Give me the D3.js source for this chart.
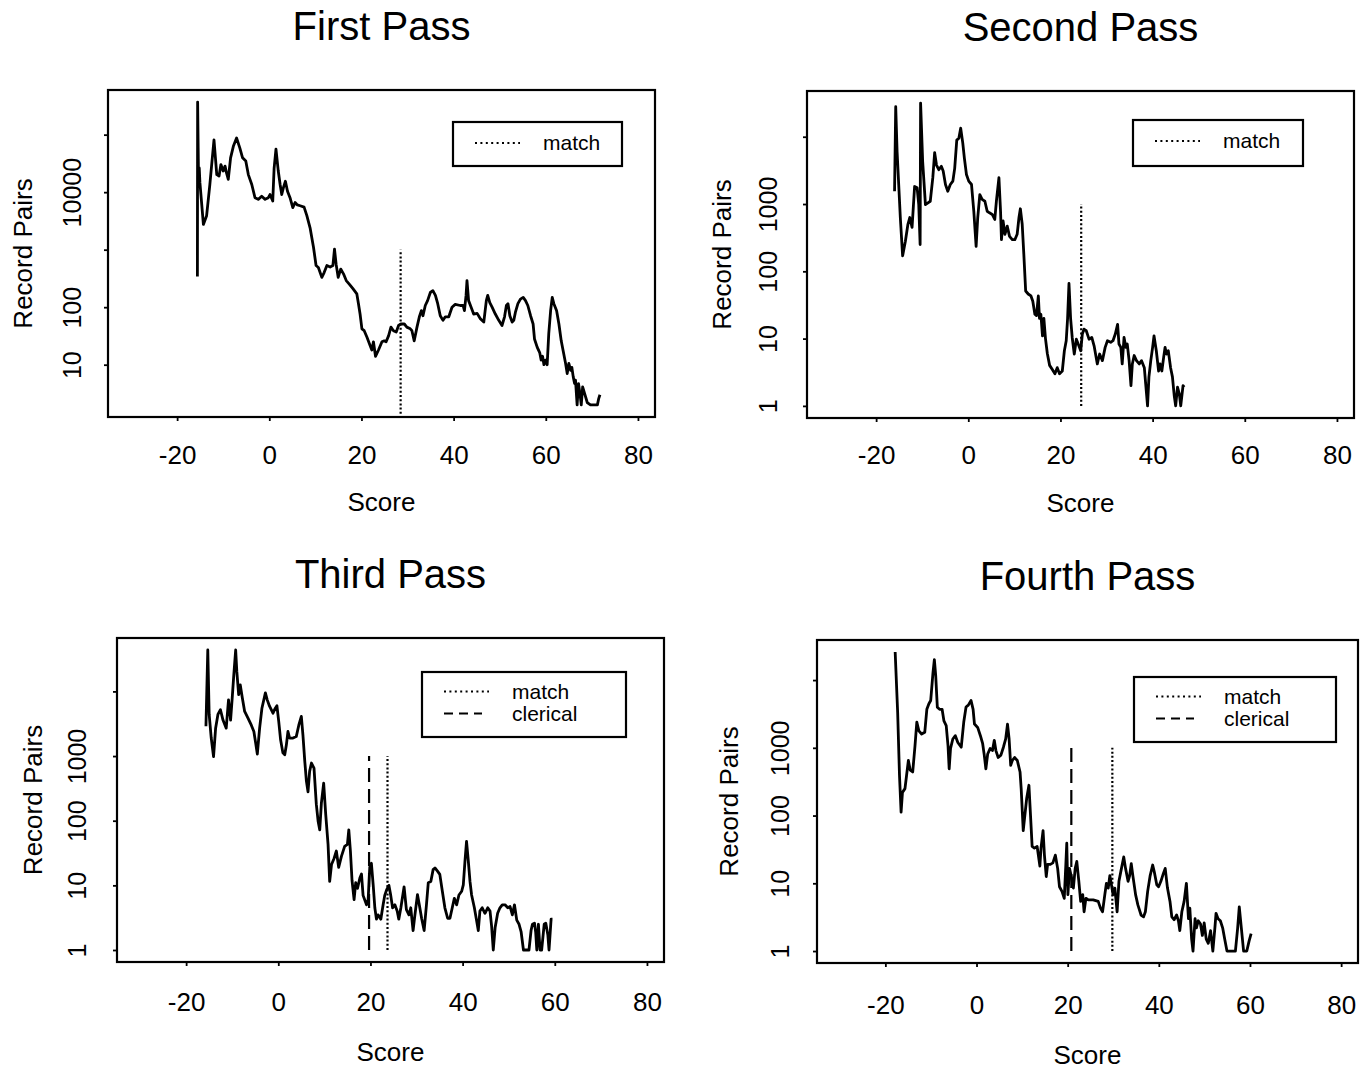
<!DOCTYPE html>
<html>
<head>
<meta charset="utf-8">
<script src="https://cdn.jsdelivr.net/npm/d3@7"></script>
<style>
  body { margin: 0; background: #fff; }
  svg { display: block; font-family: "Liberation Sans", Arial, Helvetica, sans-serif; }
</style>
</head>
<body>
<svg id="chart" width="1362" height="1070"></svg>
<script>
// ---- Score axis ----
const scoreTicks = [-20, 0, 20, 40, 60, 80];
const scoreDomain = [-35, 83.7];

// ---- Record-pair axis ticks per pass (blank label = tick without text) ----
const firstPairTicks = [10, 100, 1000, 10000, 100000];
const firstPairLabels = ["10", "100", "", "10000", ""];
const laterPairTicks = [1, 10, 100, 1000, 10000];
const laterPairLabels = ["1", "10", "100", "1000", ""];

// ---- First pass ----
const firstScore = [-15.6, -15.55, -15.35, -15.2, -15.05, -14.3, -13.6, -12.9, -12.0, -11.4, -10.9, -10.5, -10.0, -9.6, -9.3, -8.9, -8.4, -7.8, -7.1, -6.4, -5.8, -5.1, -4.55, -3.8, -3.1, -2.4, -1.65, -0.9, -0.2, 0.15, 0.75, 1.05, 1.45, 1.95, 2.35, 2.7, 3.05, 3.5, 3.95, 4.5, 5.1, 5.6, 6.1, 6.7, 7.55, 8.15, 8.85, 9.6, 10.15, 10.65, 11.4, 11.9, 12.5, 13.2, 13.8, 14.15, 14.5, 14.95, 15.5, 16.1, 16.7, 17.4, 18.15, 19.0, 19.35, 19.7, 20.1, 20.6, 21.2, 21.75, 22.25, 22.6, 23.05, 23.7, 24.45, 24.95, 25.35, 25.9, 26.4, 26.95, 27.55, 28.05, 28.55, 29.3, 29.85, 30.6, 30.95, 31.45, 32.05, 32.6, 33.0, 33.35, 33.85, 34.35, 34.95, 35.5, 36.05, 36.55, 37.1, 37.7, 38.2, 38.95, 39.65, 40.35, 41.45, 42.05, 42.35, 42.7, 42.9, 43.25, 43.8, 44.35, 45.1, 45.8, 46.55, 47.1, 47.4, 47.85, 48.35, 49.05, 49.8, 50.5, 51.05, 51.45, 51.8, 52.2, 52.7, 53.05, 53.4, 53.95, 54.5, 55.1, 55.6, 56.1, 56.7, 57.25, 57.55, 58.15, 58.7, 59.0, 59.3, 59.6, 59.95, 60.3, 60.65, 61.05, 61.4, 61.75, 62.35, 62.85, 63.35, 63.8, 64.3, 64.65, 65.0, 65.4, 65.65, 65.95, 66.25, 66.45, 66.8, 67.1, 67.4, 67.7, 68.0, 68.4, 69.0, 69.7, 70.4, 71.2, 71.5, 71.75];
const firstPairs = [340, 368000, 15500, 26300, 14500, 2750, 3900, 13500, 81000, 20200, 19100, 30200, 23300, 28400, 21900, 16700, 39500, 62600, 87500, 59000, 39500, 34700, 20200, 13600, 8000, 7500, 8500, 7500, 8000, 9100, 7000, 26300, 56200, 23300, 13600, 9100, 11900, 15500, 10400, 8000, 5400, 6600, 6000, 5800, 5500, 3900, 2400, 1090, 530, 490, 330, 400, 530, 500, 530, 1020, 560, 330, 460, 380, 290, 250, 210, 170, 115, 76, 42, 39, 30, 23, 18, 25, 14, 18, 25, 26, 25, 32, 45, 39, 37, 48, 51, 51, 45, 42, 39, 26, 45, 70, 87, 71, 107, 130, 180, 194, 160, 115, 71, 59, 68, 68, 100, 112, 107, 107, 87, 160, 290, 130, 100, 76, 78, 63, 55, 130, 160, 120, 100, 76, 59, 48, 68, 107, 115, 71, 55, 59, 81, 115, 138, 148, 130, 107, 71, 51, 28, 20, 16, 12, 14, 10, 12, 10, 35, 87, 148, 115, 87, 51, 26, 17, 10.5, 7, 10.5, 8, 9, 6.2, 4.7, 5.4, 2, 4.7, 3.2, 2, 4.1, 3.2, 2.2, 2, 2, 2, 2.6, 3];
const firstMatch = 28.5;

// ---- Second pass ----
const secondScore = [-16.0, -15.75, -15.45, -15.1, -14.75, -14.25, -13.65, -13.1, -12.7, -12.2, -11.65, -11.1, -10.75, -10.45, -10.35, -9.9, -9.3, -8.75, -8.25, -7.7, -7.3, -6.9, -6.4, -5.85, -5.45, -4.95, -4.45, -3.9, -3.35, -2.95, -2.5, -2.05, -1.65, -1.2, -0.85, -0.4, 0.1, 0.7, 1.2, 1.7, 2.05, 2.5, 3.0, 3.6, 4.1, 4.6, 5.2, 5.75, 6.1, 6.65, 7.0, 7.2, 7.55, 7.95, 8.45, 8.95, 9.55, 10.1, 10.6, 11.0, 11.3, 11.7, 12.05, 12.45, 13.0, 13.6, 14.0, 14.45, 14.8, 15.2, 15.45, 15.75, 16.1, 16.4, 16.75, 17.15, 17.65, 18.2, 18.8, 19.3, 19.8, 20.4, 20.85, 21.25, 21.55, 21.85, 22.2, 22.55, 23.0, 23.45, 23.85, 24.4, 24.75, 25.1, 25.6, 26.2, 26.8, 27.3, 28.0, 28.5, 29.1, 29.7, 30.2, 30.9, 31.4, 31.9, 32.4, 32.7, 33.1, 33.4, 33.8, 34.2, 34.5, 34.9, 35.3, 35.6, 36.0, 36.5, 37.1, 37.6, 38.2, 38.5, 38.9, 39.2, 39.6, 40.0, 40.3, 40.8, 41.3, 41.6, 42.0, 42.4, 42.7, 43.0, 43.4, 43.9, 44.3, 44.7, 45.0, 45.4, 45.8, 46.1, 46.6, 46.85];
const secondPairs = [1550, 28000, 6000, 1950, 630, 170, 280, 500, 630, 450, 1820, 1740, 980, 250, 31600, 4270, 980, 1040, 1100, 2460, 5800, 3800, 3240, 3630, 3090, 1950, 1550, 1950, 2190, 3390, 8900, 9500, 13400, 8100, 4800, 2750, 2190, 1950, 780, 235, 630, 1380, 1170, 1100, 780, 740, 700, 590, 1100, 2460, 780, 295, 560, 355, 470, 330, 295, 295, 355, 630, 850, 500, 180, 51, 46, 43, 36, 23, 22, 43, 20, 23, 11, 20, 10, 6, 4, 3.5, 3, 3.7, 3, 3.3, 6.6, 9.3, 20, 66, 20, 10.4, 5.9, 9.8, 8.3, 6.6, 11.7, 13.8, 13.1, 9.8, 10.4, 7.8, 4.2, 5.9, 4.7, 7.4, 9.3, 8.8, 9.3, 11.7, 16.3, 8.3, 7.4, 4.2, 10.4, 7.4, 8.3, 4.7, 2, 4.2, 5.6, 4.7, 4.2, 4.7, 3.7, 2.1, 1, 2.7, 4.7, 7.4, 11, 6.6, 3.3, 4.2, 3.3, 5.3, 7.4, 5.9, 6.6, 3.7, 2.7, 1.4, 1, 1.9, 1.5, 1, 2, 1.9];
const secondMatch = 24.5;

// ---- Third pass ----
const thirdScore = [-15.7, -15.3, -15.0, -14.55, -14.05, -13.6, -13.1, -12.55, -12.0, -11.3, -10.8, -10.35, -10.0, -9.65, -9.25, -9.0, -8.6, -8.25, -7.8, -7.3, -6.6, -5.85, -5.3, -4.9, -4.55, -4.05, -3.55, -2.8, -2.4, -1.9, -1.15, -0.65, -0.3, 0.1, 0.5, 1.0, 1.4, 1.75, 2.1, 2.45, 3.2, 3.9, 4.45, 5.0, 5.35, 5.75, 6.1, 6.45, 6.8, 7.2, 7.75, 8.25, 8.65, 9.0, 9.35, 9.85, 10.3, 10.8, 11.15, 11.55, 12.1, 12.6, 13.1, 13.7, 14.4, 15.0, 15.3, 15.65, 16.0, 16.45, 16.8, 17.2, 17.7, 18.05, 18.4, 18.75, 19.15, 19.5, 19.85, 20.2, 20.6, 20.95, 21.3, 21.65, 22.25, 22.75, 23.1, 23.5, 24.0, 24.4, 24.8, 25.3, 25.8, 26.15, 26.6, 27.3, 27.8, 28.35, 28.75, 29.25, 29.65, 30.2, 30.6, 31.1, 31.65, 32.15, 32.55, 33.1, 33.6, 34.0, 34.55, 35.05, 35.6, 36.15, 36.75, 37.25, 37.75, 38.2, 38.7, 39.2, 39.8, 40.15, 40.5, 40.85, 41.25, 41.6, 41.95, 42.55, 43.05, 43.4, 43.75, 44.25, 44.85, 45.45, 45.95, 46.3, 46.65, 47.05, 47.6, 48.1, 48.6, 49.2, 49.8, 50.3, 50.8, 51.25, 51.75, 52.25, 52.7, 53.2, 54.4, 54.85, 55.15, 55.6, 55.85, 56.1, 56.45, 56.8, 57.15, 57.7, 58.05, 58.5, 58.75, 59.2, 59.5];
const thirdPairs = [2900, 43700, 4400, 1900, 980, 2700, 4400, 5200, 3600, 2700, 7400, 3600, 7900, 18200, 43700, 20400, 8900, 12600, 7900, 4900, 3900, 3000, 2400, 1580, 1070, 2700, 5500, 9500, 7400, 5900, 4600, 5500, 6000, 3400, 1780, 1120, 1050, 1480, 2400, 1900, 1900, 2000, 3000, 4100, 2100, 830, 410, 280, 580, 780, 650, 180, 97, 72, 187, 380, 123, 43, 11.5, 21, 26, 34, 19, 28, 40, 43, 72, 34, 12, 6, 11, 9, 13, 15, 7, 6, 5, 6, 19, 22, 10, 4.5, 3, 3.5, 3, 5, 7, 8.5, 10, 7, 4.5, 5, 4, 3, 4.5, 9.5, 4.2, 3.5, 4.5, 2, 3.5, 7.2, 5, 3.1, 2, 5, 11, 11.5, 17.5, 18.6, 16.6, 14.8, 8.1, 4.5, 3.1, 3.1, 4.5, 6.3, 5, 7.1, 8.1, 10.2, 23, 48, 23, 11.5, 7.1, 4.5, 2.8, 2, 4, 4.5, 3.7, 4.5, 4, 2.3, 1, 2.2, 3.7, 4.5, 5, 5, 4.5, 4.7, 3.5, 5, 2.9, 2.5, 1.9, 1, 1, 2, 2.5, 2.6, 1.9, 1, 2.5, 1, 1, 2.5, 2.6, 1.7, 1, 3, 3];
const thirdClerical = 19.7;
const thirdMatch = 23.7;

// ---- Fourth pass ----
const fourthScore = [-17.85, -17.3, -16.9, -16.55, -16.25, -15.7, -15.35, -14.95, -14.55, -14.0, -13.5, -13.1, -12.65, -12.05, -11.35, -10.9, -10.45, -10.05, -9.55, -9.25, -8.95, -8.6, -8.1, -7.55, -7.15, -6.65, -6.25, -6.0, -5.7, -5.2, -4.65, -4.1, -3.35, -2.8, -2.3, -1.8, -1.2, -0.75, -0.45, 0.25, 0.85, 1.35, 1.7, 2.05, 2.45, 3.0, 3.5, 3.9, 4.25, 4.75, 5.35, 5.9, 6.4, 6.8, 7.15, 7.5, 7.85, 8.35, 8.95, 9.55, 9.8, 10.25, 10.6, 11.0, 11.5, 11.85, 12.2, 12.7, 13.3, 13.9, 14.15, 14.6, 14.9, 15.3, 15.6, 16.2, 16.75, 17.3, 17.8, 18.2, 18.75, 19.25, 19.6, 19.8, 20.05, 20.4, 20.75, 21.25, 21.65, 22.0, 22.45, 22.85, 23.3, 23.6, 24.0, 24.55, 25.6, 26.7, 27.2, 27.65, 28.15, 28.5, 28.9, 29.25, 29.6, 29.95, 30.35, 30.85, 31.25, 31.8, 32.3, 32.7, 33.25, 33.6, 33.95, 34.3, 34.9, 35.4, 36.1, 36.65, 37.05, 37.55, 38.1, 38.65, 39.0, 39.55, 39.95, 40.45, 41.0, 41.4, 41.9, 42.45, 42.85, 43.35, 43.9, 44.3, 44.6, 45.05, 45.55, 46.05, 46.5, 46.8, 47.2, 47.5, 47.95, 48.25, 48.65, 49.15, 49.55, 49.95, 50.4, 50.85, 51.35, 51.85, 52.3, 52.55, 53.0, 53.5, 54.0, 54.45, 54.95, 56.8, 57.3, 57.65, 58.1, 58.6, 59.3, 59.8, 60.25];
const fourthPairs = [26000, 3300, 390, 112, 220, 250, 390, 650, 470, 440, 1070, 2400, 1780, 1600, 1700, 3700, 4470, 5000, 12900, 20000, 11500, 3980, 3700, 3700, 2500, 2130, 1070, 490, 980, 1350, 1510, 1200, 1020, 2400, 4000, 4270, 5000, 3700, 2240, 2000, 1510, 1150, 780, 490, 810, 980, 910, 1290, 910, 720, 780, 1020, 1350, 2240, 1350, 550, 650, 720, 650, 440, 250, 60, 100, 178, 280, 100, 35, 33, 35, 18, 33, 60, 26, 12.6, 19, 19, 20, 26, 16.6, 8.9, 7.6, 6, 19, 39, 6.8, 16.6, 13, 8.5, 16.6, 21, 10.7, 5.4, 6.8, 3.8, 6, 5.7, 5.7, 5.4, 4.3, 3.8, 6.8, 10, 8.5, 13, 9.5, 6.8, 8.5, 3.8, 10.7, 16.6, 24.5, 16.6, 10.7, 13, 19.5, 13, 6.8, 4.8, 3.4, 3.2, 3.8, 7.6, 13, 18.6, 14.8, 9.5, 8.9, 10.7, 14, 16.6, 8.5, 5.4, 3.2, 2.9, 3.4, 2.8, 2, 3.8, 5.4, 10, 3, 4.3, 1.5, 1, 3, 2.2, 2.8, 2.5, 1.7, 2.6, 1.5, 1.3, 2, 1, 2.2, 3.6, 3, 2.8, 2.2, 1.5, 1, 1, 2.2, 4.5, 2.2, 1, 1, 1.4, 1.8];
const fourthClerical = 20.8;
const fourthMatch = 29.8;

// cutoff marker lines run from 1 to 1000 record pairs
const cutoffSpan = [1, 1000];

const cutoffStyle = {
  match:    { label: "match",    dash: "2 2.2", legendDash: "2 3.4" },
  clerical: { label: "clerical", dash: "14 7",  legendDash: "9 6" }
};

const panels = [
  { title: "First Pass", score: firstScore, pairs: firstPairs,
    ticks: firstPairTicks, labels: firstPairLabels,
    cutoffs: [{ kind: "match", score: firstMatch }],
    frame: { left: 108, top: 90, right: 655, bottom: 417 },
    legend: { x: 453, y: 122, w: 169, h: 44 },
    xLabelGap: 38, xTitleGap: 85, yLabelGap: 36, yTitleGap: 85 },
  { title: "Second Pass", score: secondScore, pairs: secondPairs,
    ticks: laterPairTicks, labels: laterPairLabels,
    cutoffs: [{ kind: "match", score: secondMatch }],
    frame: { left: 807, top: 91, right: 1354, bottom: 418 },
    legend: { x: 1133, y: 120, w: 170, h: 46 },
    xLabelGap: 37, xTitleGap: 85, yLabelGap: 39, yTitleGap: 85 },
  { title: "Third Pass", score: thirdScore, pairs: thirdPairs,
    ticks: laterPairTicks, labels: laterPairLabels,
    cutoffs: [{ kind: "clerical", score: thirdClerical }, { kind: "match", score: thirdMatch }],
    frame: { left: 117, top: 638, right: 664, bottom: 962 },
    legend: { x: 422, y: 672, w: 204, h: 65 },
    xLabelGap: 40, xTitleGap: 90, yLabelGap: 40, yTitleGap: 84 },
  { title: "Fourth Pass", score: fourthScore, pairs: fourthPairs,
    ticks: laterPairTicks, labels: laterPairLabels,
    cutoffs: [{ kind: "clerical", score: fourthClerical }, { kind: "match", score: fourthMatch }],
    frame: { left: 817, top: 640, right: 1358, bottom: 963 },
    legend: { x: 1134, y: 677, w: 202, h: 65 },
    xLabelGap: 42, xTitleGap: 92, yLabelGap: 37, yTitleGap: 88 }
];

const svg = d3.select("#chart");
svg.append("rect").attr("width", 1362).attr("height", 1070).attr("fill", "#fff");

panels.forEach((p, idx) => {
  const f = p.frame;
  const g = svg.append("g");

  const x = d3.scaleLinear().domain(scoreDomain).range([f.left, f.right]);

  // log range of the counts, padded 4% on each side
  const lo = Math.log10(d3.min(p.pairs));
  const hi = Math.log10(d3.max(p.pairs));
  const pad = 0.04 * (hi - lo);
  const y = d3.scaleLog().domain([10 ** (lo - pad), 10 ** (hi + pad)]).range([f.bottom, f.top]);

  const clipId = "plot-clip-" + idx;
  g.append("clipPath").attr("id", clipId)
    .append("rect")
    .attr("x", f.left).attr("y", f.top)
    .attr("width", f.right - f.left).attr("height", f.bottom - f.top);

  const plot = g.append("g").attr("clip-path", `url(#${clipId})`);

  // cutoff markers
  plot.selectAll("line.cutoff")
    .data(p.cutoffs)
    .join("line")
    .attr("class", "cutoff")
    .attr("x1", d => x(d.score)).attr("x2", d => x(d.score))
    .attr("y1", y(cutoffSpan[0])).attr("y2", y(cutoffSpan[1]))
    .attr("stroke", "#000").attr("stroke-width", 2.2)
    .attr("stroke-dasharray", d => cutoffStyle[d.kind].dash);

  // record-pair counts by score
  const pts = p.score.map((s, i) => [s, p.pairs[i]]);
  const line = d3.line().x(d => x(d[0])).y(d => y(d[1]));
  plot.append("path")
    .datum(pts)
    .attr("d", line)
    .attr("fill", "none")
    .attr("stroke", "#000")
    .attr("stroke-width", 2.8)
    .attr("stroke-linejoin", "round");

  // frame
  g.append("rect")
    .attr("x", f.left).attr("y", f.top)
    .attr("width", f.right - f.left).attr("height", f.bottom - f.top)
    .attr("fill", "none").attr("stroke", "#000").attr("stroke-width", 2.2);

  // x axis
  const xAxis = g.append("g")
    .attr("transform", `translate(0,${f.bottom})`)
    .call(d3.axisBottom(x).tickValues(scoreTicks).tickSize(4).tickFormat(d => String(d)));
  xAxis.select(".domain").remove();
  xAxis.selectAll("line").attr("stroke-width", 1.8);
  xAxis.selectAll("text")
    .attr("y", p.xLabelGap).attr("dy", "0.35em")
    .attr("font-size", 26).attr("font-family", null).attr("fill", "#000");

  // y axis
  const yAxis = g.append("g")
    .attr("transform", `translate(${f.left},0)`)
    .call(d3.axisLeft(y).tickValues(p.ticks).tickSize(4).tickFormat((d, i) => p.labels[i]));
  yAxis.select(".domain").remove();
  yAxis.selectAll("line").attr("stroke-width", 1.8);
  yAxis.selectAll("text")
    .attr("x", 0).attr("y", 0).attr("dy", "0.35em")
    .attr("text-anchor", "middle")
    .attr("transform", `translate(${-p.yLabelGap},0) rotate(-90)`)
    .attr("font-size", 25).attr("font-family", null).attr("fill", "#000");

  // titles
  g.append("text")
    .attr("x", (f.left + f.right) / 2).attr("y", f.top - 50)
    .attr("text-anchor", "middle").attr("font-size", 40)
    .text(p.title);
  g.append("text")
    .attr("x", (f.left + f.right) / 2).attr("y", f.bottom + p.xTitleGap)
    .attr("dy", "0.35em").attr("text-anchor", "middle").attr("font-size", 26)
    .text("Score");
  g.append("text")
    .attr("transform", `translate(${f.left - p.yTitleGap},${(f.top + f.bottom) / 2}) rotate(-90)`)
    .attr("dy", "0.35em").attr("text-anchor", "middle").attr("font-size", 26)
    .text("Record Pairs");

  // legend
  const L = p.legend;
  const lg = g.append("g");
  lg.append("rect")
    .attr("x", L.x).attr("y", L.y).attr("width", L.w).attr("height", L.h)
    .attr("fill", "#fff").attr("stroke", "#000").attr("stroke-width", 2.2);
  const kinds = ["match", "clerical"].filter(k => p.cutoffs.some(c => c.kind === k));
  const entry = lg.selectAll("g.entry").data(kinds).join("g")
    .attr("class", "entry")
    .attr("transform", (d, i) => `translate(${L.x},${L.y + (kinds.length > 1 ? 19.5 : 21) + 22 * i})`);
  entry.append("line")
    .attr("x1", 22).attr("x2", d => d === "match" ? 67 : 60)
    .attr("stroke", "#000").attr("stroke-width", 2)
    .attr("stroke-dasharray", d => cutoffStyle[d].legendDash);
  entry.append("text")
    .attr("x", 90).attr("dy", "0.35em").attr("font-size", 21)
    .text(d => cutoffStyle[d].label);
});
</script>
</body>
</html>
